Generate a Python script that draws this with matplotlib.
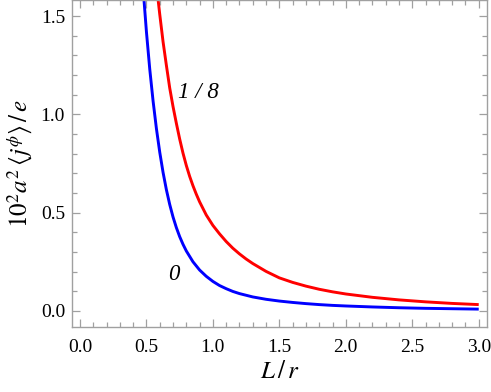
import matplotlib
matplotlib.use("Agg")
import matplotlib.pyplot as plt
from matplotlib.ticker import MultipleLocator

# Data (L/r, 10^2 a^2 <j^phi>/e)
x_blue = [0.45, 0.475, 0.50, 0.525, 0.55, 0.575, 0.60, 0.625, 0.65, 0.675, 0.70, 0.725,
          0.75, 0.775, 0.80, 0.85, 0.90, 0.95, 1.0, 1.05, 1.1, 1.15, 1.2, 1.3, 1.4,
          1.5, 1.6, 1.7, 1.8, 1.9, 2.0, 2.2, 2.4, 2.6, 2.8, 3.0]
y_blue = [1.90, 1.64, 1.42, 1.23, 1.068, 0.928, 0.808, 0.705, 0.617, 0.542, 0.478, 0.424,
          0.378, 0.339, 0.305, 0.250, 0.208, 0.176, 0.150, 0.129, 0.113, 0.099, 0.088, 0.071, 0.059,
          0.050, 0.043, 0.037, 0.032, 0.028, 0.025, 0.020, 0.016, 0.013, 0.011, 0.009]

x_red = [0.55, 0.575, 0.60, 0.625, 0.65, 0.675, 0.70, 0.725, 0.75, 0.775, 0.80, 0.825,
         0.85, 0.875, 0.90, 0.95, 1.0, 1.05, 1.1, 1.15, 1.2, 1.25, 1.3, 1.4, 1.5, 1.6,
         1.7, 1.8, 1.9, 2.0, 2.2, 2.4, 2.6, 2.8, 3.0]
y_red = [1.84, 1.66, 1.51, 1.37, 1.25, 1.135, 1.04, 0.955, 0.875, 0.803, 0.740, 0.685,
         0.637, 0.594, 0.555, 0.488, 0.435, 0.392, 0.353, 0.319, 0.290, 0.264, 0.241, 0.201, 0.168, 0.145,
         0.126, 0.110, 0.097, 0.086, 0.069, 0.056, 0.046, 0.038, 0.032]

curve_labels = ["0", "1 / 8"]
label_pos = [(0.705, 0.185), (0.89, 1.11)]

x_ticks = [0.0, 0.5, 1.0, 1.5, 2.0, 2.5, 3.0]
y_ticks = [0.0, 0.5, 1.0, 1.5]

plt.rcParams['mathtext.fontset'] = 'stix'
plt.rcParams['font.family'] = ['Liberation Serif', 'DejaVu Serif']

fig = plt.figure(figsize=(4.91, 3.92), dpi=100)
ax = fig.add_axes([72/491, 1 - 327/392, (486.7 - 72)/491, 327/392 - 0.001])

ax.plot(x_blue, y_blue, color='#0000ff', lw=2.1, solid_capstyle='butt')
ax.plot(x_red, y_red, color='#ff0000', lw=2.1, solid_capstyle='butt')

for txt, (tx, ty) in zip(curve_labels, label_pos):
    ax.text(tx, ty, txt, fontsize=16.5, style='italic', ha='center', va='center',
            family=['Liberation Serif'])

ax.set_xlim(-0.06, 3.06)
ax.set_ylim(-0.082, 1.58)
ax.set_xticks(x_ticks)
ax.set_yticks(y_ticks)
ax.set_xticklabels([f"{v:.1f}" for v in x_ticks])
ax.set_yticklabels([f"{v:.1f}" for v in y_ticks])
ax.xaxis.set_minor_locator(MultipleLocator(0.1))
ax.yaxis.set_minor_locator(MultipleLocator(0.1))

frame_col = '#a0a0a0'
for s in ax.spines.values():
    s.set_color(frame_col)
    s.set_linewidth(1.0)
ax.tick_params(which='both', direction='in', top=True, right=True, color=frame_col,
               labelsize=14, labelcolor='black', width=0.9)
ax.tick_params(which='major', length=6, pad=5)
ax.tick_params(which='minor', length=3.5)
ax.tick_params(axis='x', which='major', pad=9)

ax.set_xlabel(r'$L\,/\,r$', fontsize=18, labelpad=3)
ax.set_ylabel(r'$10^2a^2\,\left\langle j^{\phi}\right\rangle\,/\,e$', fontsize=18, labelpad=4)

fig.savefig('out.png', dpi=100)
